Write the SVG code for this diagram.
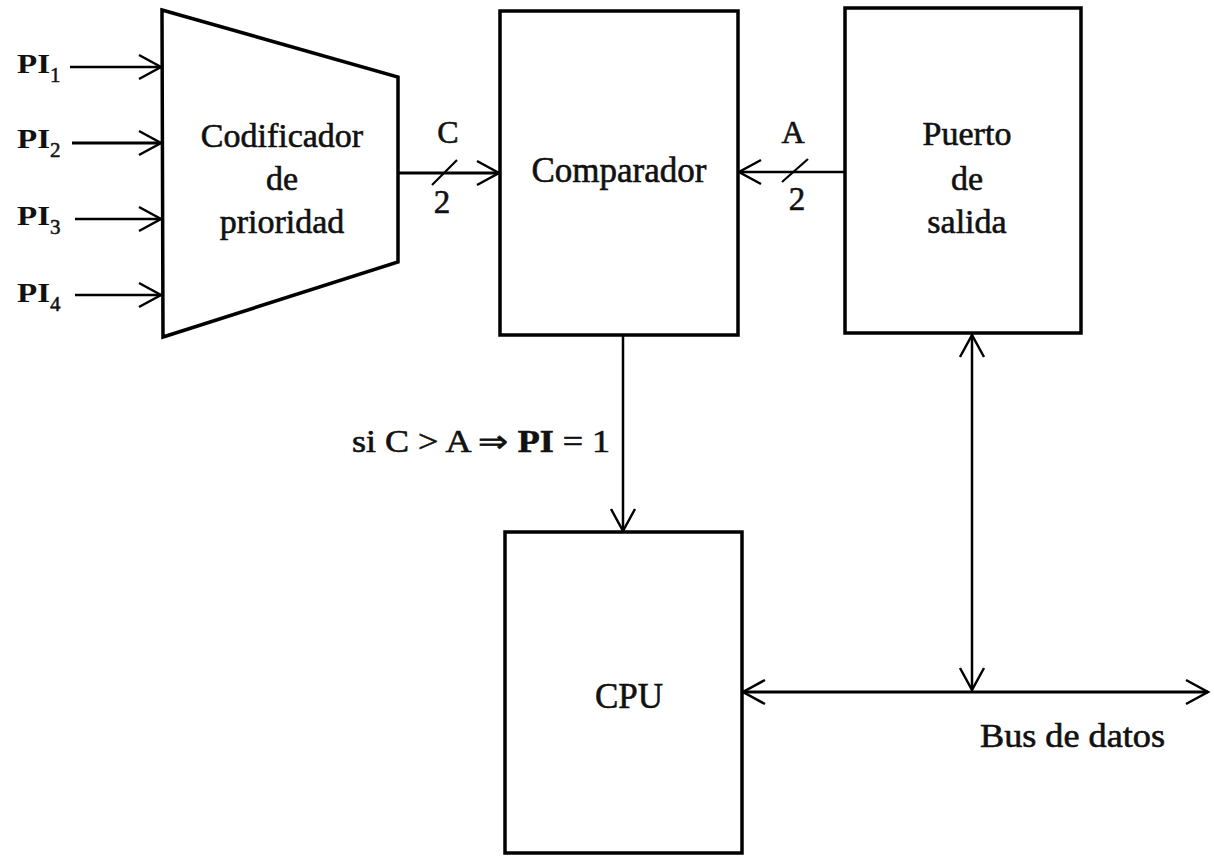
<svg xmlns="http://www.w3.org/2000/svg" width="1214" height="857" viewBox="0 0 1214 857">
  <style>
    .box { fill: #ffffff; stroke: #000000; stroke-width: 3.5; stroke-linejoin: miter; }
    .wire { fill: none; stroke: #000000; stroke-width: 2.5; }
    .slash { fill: none; stroke: #000000; stroke-width: 2.2; }
    .t { font-family: "Liberation Serif", "Times New Roman", serif; font-size: 34px; fill: #111111; stroke: #111111; stroke-width: 0.6; text-anchor: middle; }
    .pi { font-family: "Liberation Serif", "Times New Roman", serif; font-size: 28px; font-weight: bold; fill: #111111; }
    .sub { font-size: 21px; font-weight: normal; stroke: #111111; stroke-width: 0.5; }
  </style>
  <defs>
    <marker id="arr" markerUnits="userSpaceOnUse" markerWidth="30" markerHeight="30" viewBox="-26 -15 30 30" refX="0" refY="0" orient="auto-start-reverse">
      <path d="M -22 -12 L 0 0 L -22 12" fill="none" stroke="#000000" stroke-width="2.5"/>
    </marker>
  </defs>
  <rect width="1214" height="857" fill="#ffffff"/>

  <g id="connectors">
    <line class="wire" x1="70" y1="67" x2="161" y2="67" marker-end="url(#arr)"/>
    <line class="wire" x1="72" y1="143" x2="161" y2="143" marker-end="url(#arr)" style="stroke-width:3.2"/>
    <line class="wire" x1="75" y1="219" x2="161" y2="219" marker-end="url(#arr)"/>
    <line class="wire" x1="75" y1="295" x2="161" y2="295" marker-end="url(#arr)"/>
    <line class="wire" x1="398" y1="173" x2="499" y2="173" marker-end="url(#arr)" style="stroke-width:3"/>
    <line class="slash" x1="432" y1="185" x2="457" y2="160"/>
    <line class="wire" x1="845" y1="172" x2="739" y2="172" marker-end="url(#arr)"/>
    <line class="slash" x1="782" y1="182" x2="808" y2="159"/>
    <line class="wire" x1="623" y1="336" x2="623" y2="531" marker-end="url(#arr)"/>
    <line class="wire" x1="972" y1="335" x2="972" y2="690" marker-start="url(#arr)" marker-end="url(#arr)"/>
    <line class="wire" x1="743" y1="692" x2="1208" y2="692" marker-start="url(#arr)" marker-end="url(#arr)" style="stroke-width:3"/>
  </g>

  <g id="codificador">
    <polygon class="box" points="162,10 398,77 398,262 163,337"/>
    <text class="t" x="282" y="147">Codificador</text>
    <text class="t" x="282" y="190">de</text>
    <text class="t" x="282" y="233">prioridad</text>
  </g>

  <g id="comparador">
    <rect class="box" x="500" y="11" width="238" height="324"/>
    <text class="t" x="619" y="182" style="font-size:35px">Comparador</text>
  </g>

  <g id="puerto">
    <rect class="box" x="845" y="8" width="236" height="325"/>
    <text class="t" x="967" y="145">Puerto</text>
    <text class="t" x="967" y="190">de</text>
    <text class="t" x="967" y="233">salida</text>
  </g>

  <g id="cpu">
    <rect class="box" x="505" y="532" width="237" height="321"/>
    <text class="t" x="629" y="708" style="font-size:35px">CPU</text>
  </g>

  <g id="labels">
    <text class="pi" x="17" y="73"><tspan textLength="33" lengthAdjust="spacingAndGlyphs">PI</tspan><tspan class="sub" dy="9">1</tspan></text>
    <text class="pi" x="17" y="148"><tspan textLength="33" lengthAdjust="spacingAndGlyphs">PI</tspan><tspan class="sub" dy="9">2</tspan></text>
    <text class="pi" x="17" y="225"><tspan textLength="33" lengthAdjust="spacingAndGlyphs">PI</tspan><tspan class="sub" dy="9">3</tspan></text>
    <text class="pi" x="17" y="302"><tspan textLength="33" lengthAdjust="spacingAndGlyphs">PI</tspan><tspan class="sub" dy="9">4</tspan></text>
    <text class="t" x="448" y="143" style="font-size:32px">C</text>
    <text class="t" x="442" y="213" style="font-size:33px">2</text>
    <text class="t" x="793" y="143" style="font-size:32px">A</text>
    <text class="t" x="797" y="210" style="font-size:33px">2</text>
    <text class="t" x="352" y="452" textLength="258" lengthAdjust="spacingAndGlyphs" style="text-anchor:start;font-size:31px">si C &gt; A ⇒ <tspan font-weight="bold">PI</tspan> = 1</text>
    <text class="t" x="980" y="747" textLength="185" lengthAdjust="spacingAndGlyphs" style="text-anchor:start;font-size:33px">Bus de datos</text>
  </g>
</svg>
